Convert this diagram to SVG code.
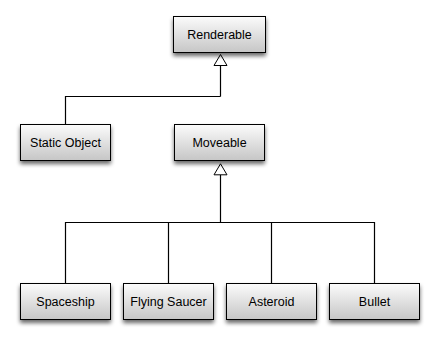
<svg xmlns="http://www.w3.org/2000/svg" width="439" height="343" viewBox="0 0 439 343">
<defs>
<linearGradient id="g" x1="0" y1="0" x2="0" y2="1">
<stop offset="0" stop-color="#fbfbfb"/>
<stop offset="1" stop-color="#c6c6c6"/>
</linearGradient>
<filter id="sh" x="-20%" y="-20%" width="140%" height="160%">
<feGaussianBlur in="SourceAlpha" stdDeviation="2"/>
<feOffset dx="0" dy="3" result="b"/>
<feComponentTransfer><feFuncA type="linear" slope="0.6"/></feComponentTransfer>
<feMerge><feMergeNode/><feMergeNode in="SourceGraphic"/></feMerge>
</filter>
<path id="tri" d="M0,0 L6.5,11 L-6.5,11 Z"/>
</defs>
<style>
.box{fill:url(#g);stroke:#000;stroke-width:1;filter:url(#sh)}
.lbl{font-family:"Liberation Sans",Arial,sans-serif;font-size:12.5px;fill:#000;text-anchor:middle}
.c{fill:none;stroke:#000;stroke-width:1.2}
.head{fill:#fff;stroke:#000;stroke-width:1}
</style>
<rect width="439" height="343" fill="#fff"/>
<g id="connectors">
<path class="c" d="M220.5,65.5 V96.5 M65.5,124 V96.5 H220.5"/>
<path class="c" d="M220.5,175 V222.5 M65.5,283 V222.5 H374.5 V283 M168.5,222.5 V283 M271.5,222.5 V283"/>
<use href="#tri" class="head" x="220.5" y="54.5"/>
<use href="#tri" class="head" x="220.5" y="163.8"/>
</g>
<g id="renderable"><rect class="box" x="173.5" y="16.5" width="92" height="36"/><text class="lbl" x="219.5" y="39">Renderable</text></g>
<g id="static-object"><rect class="box" x="20.5" y="124.5" width="90" height="36"/><text class="lbl" x="65.5" y="147">Static Object</text></g>
<g id="moveable"><rect class="box" x="174.5" y="124.5" width="90" height="36"/><text class="lbl" x="219.5" y="147">Moveable</text></g>
<g id="spaceship"><rect class="box" x="20.5" y="283.5" width="90" height="36"/><text class="lbl" x="65.5" y="306">Spaceship</text></g>
<g id="flying-saucer"><rect class="box" x="123.5" y="283.5" width="90" height="36"/><text class="lbl" x="168.5" y="306">Flying Saucer</text></g>
<g id="asteroid"><rect class="box" x="226.5" y="283.5" width="90" height="36"/><text class="lbl" x="271.5" y="306">Asteroid</text></g>
<g id="bullet"><rect class="box" x="329.5" y="283.5" width="90" height="36"/><text class="lbl" x="374.5" y="306">Bullet</text></g>
</svg>
